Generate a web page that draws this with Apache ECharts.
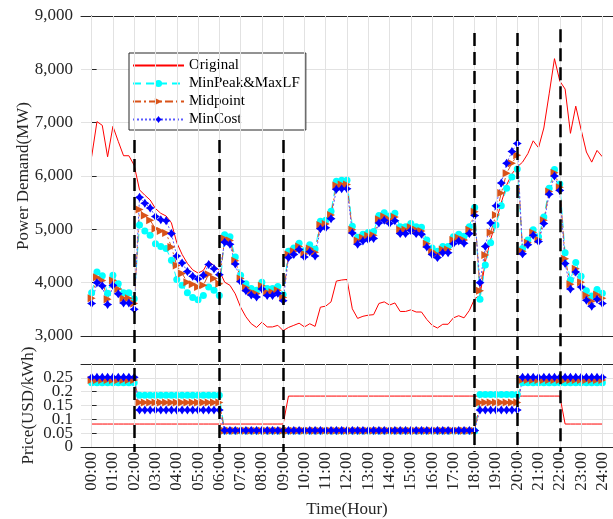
<!DOCTYPE html>
<html>
<head>
<meta charset="utf-8">
<script src="https://cdn.jsdelivr.net/npm/echarts@6/dist/echarts.min.js"></script>
<style>
html,body{margin:0;padding:0;background:#fff;}
#chart{width:613px;height:519px;}
</style>
</head>
<body>
<div id="chart"></div>
<script>
// ---- data (15-minute steps, 00:00 .. 24:00, 97 points) ----
const hourTicks = [0,1,2,3,4,5,6,7,8,9,10,11,12,13,14,15,16,17,18,19,20,21,22,23,24];
const hourLabels = ['00:00','01:00','02:00','03:00','04:00','05:00','06:00','07:00','08:00','09:00','10:00','11:00','12:00','13:00','14:00','15:00','16:00','17:00','18:00','19:00','20:00','21:00','22:00','23:00','24:00'];
const priceTicksA = [0, 0.1, 0.2];
const priceTicksB = [0.05, 0.15, 0.25];
const seriesNames = ['Original','MinPeak&MaxLF','Midpoint','MinCost'];
const dividerHours = [2,6,9,18,20,22];
const dividerTops = [6675,6675,6675,8680,8680,8750];

const original = [6360,7020,6950,6360,6930,6650,6380,6380,6200,
  5740,5640,5550,5390,5300,5250,5120,4750,4530,4360,4240,4180,4230,4400,4320,4230,
  4010,3950,3790,3540,3360,3230,3160,3260,3170,3170,3200,3100,
  3160,3200,3240,3170,3230,3180,3540,3560,3640,4030,4050,4060,3510,3330,3370,3390,3400,3610,3640,3580,3620,3460,3460,3490,3450,3450,3310,3200,3150,3220,3220,3340,3380,3340,3480,3700,
  3760,4390,4810,5140,5500,5830,6040,6170,
  6260,6420,6660,6530,6900,7540,8200,7780,
  7630,6800,7310,6870,6450,6260,6480,6360];
const minPeak = [3810,4200,4130,3800,4140,3980,3810,3810,3700,
  5080,4970,4890,4730,4680,4640,4420,4060,3950,3810,3720,3680,3760,3920,3860,3760,
  4900,4860,4480,4140,3980,3890,3860,4010,3890,3890,3930,3780,
  4590,4650,4740,4600,4710,4630,5150,5170,5340,5900,5920,5920,5060,4850,4910,4940,4960,5260,5310,5250,5300,5050,5050,5110,5050,5040,4800,4650,4590,4680,4680,4860,4910,4870,5050,5410,
  3690,4330,4750,5080,5440,5770,5980,6130,
  4640,4800,4990,4860,5230,5770,6120,5850,
  4560,4050,4380,4120,3850,3750,3870,3800];
const midpoint = [3710,4100,4040,3690,4040,3880,3710,3710,3610,
  5370,5260,5170,5010,4970,4930,4670,4320,4170,4010,3970,3920,3950,4160,4080,3980,
  4830,4790,4410,4080,3910,3830,3790,3940,3820,3820,3860,3720,
  4530,4590,4680,4540,4640,4570,5080,5100,5270,5820,5840,5840,4990,4790,4840,4880,4890,5190,5240,5180,5230,4990,4990,5040,4990,4970,4730,4590,4530,4620,4620,4800,4840,4800,4990,5330,
  3850,4520,4940,5270,5680,6050,6240,6390,
  4590,4750,4940,4810,5170,5710,6060,5790,
  4450,3970,4260,4010,3760,3650,3780,3710];
const minCost = [3610,4000,3940,3590,3950,3790,3620,3620,3500,
  5600,5490,5400,5240,5180,5160,4920,4500,4370,4210,4120,4070,4140,4340,4260,4150,
  4760,4720,4350,4020,3850,3770,3730,3880,3760,3760,3800,3660,
  4470,4530,4620,4480,4580,4500,5010,5030,5200,5750,5760,5760,4930,4720,4780,4810,4830,5120,5170,5110,5160,4920,4920,4980,4920,4910,4670,4530,4470,4560,4560,4730,4780,4740,4920,5260,
  4000,4680,5120,5440,5870,6240,6460,6610,
  4540,4710,4890,4770,5110,5660,6000,5730,
  4360,3880,4200,3920,3670,3560,3690,3610];

const priceOriginal = [0.083,0.083,0.083,0.083,0.083,0.083,0.083,0.083,0.083,
  0.083,0.083,0.083,0.083,0.083,0.083,0.083,0.083,0.083,0.083,0.083,0.083,0.083,0.083,0.083,0.083,
  0.083,0.083,0.083,0.083,0.083,0.083,0.083,0.083,0.083,0.083,0.083,0.083,
  0.184,0.184,0.184,0.184,0.184,0.184,0.184,0.184,0.184,0.184,0.184,0.184,0.184,0.184,0.184,0.184,0.184,0.184,0.184,0.184,0.184,0.184,0.184,0.184,0.184,0.184,0.184,0.184,0.184,0.184,0.184,0.184,0.184,0.184,0.184,0.184,
  0.184,0.184,0.184,0.184,0.184,0.184,0.184,0.184,
  0.184,0.184,0.184,0.184,0.184,0.184,0.184,0.184,
  0.083,0.083,0.083,0.083,0.083,0.083,0.083,0.083];
const priceMinPeak = [0.232,0.232,0.232,0.232,0.232,0.232,0.232,0.232,0.232,
  0.187,0.187,0.187,0.187,0.187,0.187,0.187,0.187,0.187,0.187,0.187,0.187,0.187,0.187,0.187,0.187,
  0.058,0.058,0.058,0.058,0.058,0.058,0.058,0.058,0.058,0.058,0.058,0.058,
  0.058,0.058,0.058,0.058,0.058,0.058,0.058,0.058,0.058,0.058,0.058,0.058,0.058,0.058,0.058,0.058,0.058,0.058,0.058,0.058,0.058,0.058,0.058,0.058,0.058,0.058,0.058,0.058,0.058,0.058,0.058,0.058,0.058,0.058,0.058,0.058,
  0.19,0.19,0.19,0.19,0.19,0.19,0.19,0.19,
  0.232,0.232,0.232,0.232,0.232,0.232,0.232,0.232,
  0.232,0.232,0.232,0.232,0.232,0.232,0.232,0.232];
const priceMidpoint = [0.242,0.242,0.242,0.242,0.242,0.242,0.242,0.242,0.242,
  0.161,0.161,0.161,0.161,0.161,0.161,0.161,0.161,0.161,0.161,0.161,0.161,0.161,0.161,0.161,0.161,
  0.059,0.059,0.059,0.059,0.059,0.059,0.059,0.059,0.059,0.059,0.059,0.059,
  0.059,0.059,0.059,0.059,0.059,0.059,0.059,0.059,0.059,0.059,0.059,0.059,0.059,0.059,0.059,0.059,0.059,0.059,0.059,0.059,0.059,0.059,0.059,0.059,0.059,0.059,0.059,0.059,0.059,0.059,0.059,0.059,0.059,0.059,0.059,0.059,
  0.161,0.161,0.161,0.161,0.161,0.161,0.161,0.161,
  0.242,0.242,0.242,0.242,0.242,0.242,0.242,0.242,
  0.242,0.242,0.242,0.242,0.242,0.242,0.242,0.242];
const priceMinCost = [0.252,0.252,0.252,0.252,0.252,0.252,0.252,0.252,0.252,
  0.134,0.134,0.134,0.134,0.134,0.134,0.134,0.134,0.134,0.134,0.134,0.134,0.134,0.134,0.134,0.134,
  0.06,0.06,0.06,0.06,0.06,0.06,0.06,0.06,0.06,0.06,0.06,0.06,
  0.06,0.06,0.06,0.06,0.06,0.06,0.06,0.06,0.06,0.06,0.06,0.06,0.06,0.06,0.06,0.06,0.06,0.06,0.06,0.06,0.06,0.06,0.06,0.06,0.06,0.06,0.06,0.06,0.06,0.06,0.06,0.06,0.06,0.06,0.06,0.06,
  0.134,0.134,0.134,0.134,0.134,0.134,0.134,0.134,
  0.252,0.252,0.252,0.252,0.252,0.252,0.252,0.252,
  0.252,0.252,0.252,0.252,0.252,0.252,0.252,0.252];

// time of each sample (15-minute steps)
const timeSteps = original.map((_, i) => i / 4);
const pair = arr => arr.map((v, i) => [timeSteps[i], v]);

// ---- styles ----
const FONT = 'Liberation Serif';
const AX = '#262626';
const GRIDC = '#e2e2e2';
const STAR = 'path://M0,-10 L4,-4 L10,0 L4,4 L0,10 L-4,4 L-10,0 L-4,-4 Z';
const styles = [
  {color:'#ff0000', lineType:'solid', symbol:'none', size:0, rotate:0},
  {color:'#00ffff', lineType:[8,5], symbol:'circle', size:7, rotate:0},
  {color:'#d95319', lineType:[8,3,2,3], symbol:'triangle', size:8, rotate:-90},
  {color:'#0000ff', lineType:[2,2], symbol:STAR, size:9, rotate:0, lineColor:'#5a5aff'}
];

function mkSeries(name, data, sty, xi, yi) {
  return {
    name: name, type: 'line', xAxisIndex: xi, yAxisIndex: yi,
    data: pair(data),
    symbol: sty.symbol, symbolSize: sty.size, symbolRotate: sty.rotate,
    showSymbol: sty.symbol !== 'none', showAllSymbol: true,
    itemStyle: {color: sty.color, borderWidth: 0},
    lineStyle: {color: sty.lineColor || sty.color, width: 1, type: sty.lineType},
    emphasis: {disabled: true}, animation: false, z: 3
  };
}

const chart = echarts.init(document.getElementById('chart'), null, {renderer:'canvas'});

const grids = [
  {left: 81, right: -7, top: 16, height: 320},
  {left: 81, right: -7, top: 364, height: 84},
  {left: 81, right: -7, top: 16, height: 436}
];

const nameStyle = {fontFamily: FONT, fontSize: 17, color: AX};

function xAx(gridIndex, pos, labels) {
  return {
    type: 'value', gridIndex: gridIndex, position: pos, min: -0.5, max: 24.5,
    axisLine: {show: true, onZero: false, lineStyle: {color: AX, width: 1}},
    axisTick: {show: true, inside: true, length: 5, customValues: hourTicks, lineStyle: {color: AX}},
    axisLabel: labels ? {
      show: true, customValues: hourTicks, rotate: 90, margin: 5,
      fontFamily: FONT, fontSize: 17, color: AX,
      formatter: v => hourLabels[hourTicks.indexOf(Math.round(v))]
    } : {show: false},
    splitLine: {show: false},
    name: labels ? 'Time(Hour)' : '', nameLocation: 'middle', nameGap: 54,
    nameMoveOverlap: false, nameTextStyle: nameStyle
  };
}

function priceLabelAxis(ticks, withLine, withName) {
  return {
    type: 'value', gridIndex: 1, position: 'left', offset: 0,
    min: 0, max: 0.3, interval: 0.05,
    axisLine: {show: withLine, lineStyle: {color: AX}},
    axisTick: {show: withLine, inside: true, length: 5, lineStyle: {color: AX}},
    axisLabel: {fontFamily: FONT, fontSize: 17, color: AX, margin: 8,
      customValues: ticks, showMinLabel: true, showMaxLabel: true, hideOverlap: false,
      formatter: v => String(Math.round(v * 100) / 100)},
    splitLine: {show: withLine, lineStyle: {color: GRIDC, width: 1}},
    name: withName ? 'Price(USD/kWh)' : '', nameLocation: 'middle', nameGap: 44,
    nameMoveOverlap: false, nameTextStyle: nameStyle
  };
}

const option = {
  animation: false,
  textStyle: {fontFamily: FONT},
  grid: grids,
  legend: {
    data: [
      {name: seriesNames[0], itemStyle: {opacity: 0}},
      {name: seriesNames[1]},
      {name: seriesNames[2]},
      {name: seriesNames[3]}
    ],
    orient: 'vertical', left: 129, top: 53,
    itemWidth: 51, itemHeight: 9, itemGap: 3,
    backgroundColor: '#fff', borderColor: AX, borderWidth: 1,
    padding: [5, 6, 3, 3],
    textStyle: {fontFamily: FONT, fontSize: 15, color: '#000'},
    selectedMode: false
  },
  xAxis: [
    xAx(0, 'bottom', false),
    xAx(0, 'top', false),
    xAx(1, 'bottom', true),
    xAx(1, 'top', false),
    {type: 'value', gridIndex: 2, min: -0.5, max: 24.5, show: false}
  ],
  yAxis: [
    {
      type: 'value', gridIndex: 0, min: 3000, max: 9000, interval: 1000,
      axisLine: {show: true, lineStyle: {color: AX}},
      axisTick: {show: true, inside: true, length: 5, lineStyle: {color: AX}},
      axisLabel: {fontFamily: FONT, fontSize: 17, color: AX, margin: 8,
        formatter: v => v.toLocaleString('en-US')},
      splitLine: {show: true, lineStyle: {color: GRIDC, width: 1}},
      name: 'Power Demand(MW)', nameLocation: 'middle', nameGap: 49,
      nameMoveOverlap: false, nameTextStyle: nameStyle
    },
    priceLabelAxis(priceTicksA, true, true),
    {type: 'value', gridIndex: 2, min: 825, max: 9000, show: false},
    priceLabelAxis(priceTicksB, false, false)
  ],
  series: [
    // hourly vertical grid lines (behind data)
    {type: 'line', xAxisIndex: 0, yAxisIndex: 0, data: [], z: 1, silent: true,
      markLine: {silent: true, symbol: 'none', animation: false, label: {show: false},
        lineStyle: {color: GRIDC, width: 1, type: 'solid'},
        data: hourTicks.map(h => ({xAxis: h}))}},
    {type: 'line', xAxisIndex: 2, yAxisIndex: 1, data: [], z: 1, silent: true,
      markLine: {silent: true, symbol: 'none', animation: false, label: {show: false},
        lineStyle: {color: GRIDC, width: 1, type: 'solid'},
        data: hourTicks.map(h => ({xAxis: h}))}},
    mkSeries(seriesNames[0], original, styles[0], 0, 0),
    mkSeries(seriesNames[1], minPeak, styles[1], 0, 0),
    mkSeries(seriesNames[2], midpoint, styles[2], 0, 0),
    mkSeries(seriesNames[3], minCost, styles[3], 0, 0),
    mkSeries(seriesNames[0], priceOriginal, styles[0], 2, 1),
    mkSeries(seriesNames[1], priceMinPeak, styles[1], 2, 1),
    mkSeries(seriesNames[2], priceMidpoint, styles[2], 2, 1),
    mkSeries(seriesNames[3], priceMinCost, styles[3], 2, 1),
    // period dividers
    {type: 'line', xAxisIndex: 4, yAxisIndex: 2, data: [], z: 5, silent: true,
      markLine: {silent: true, symbol: 'none', animation: false, label: {show: false},
        lineStyle: {color: '#000', width: 2.5, type: [13, 6]},
        data: dividerHours.map((h, i) => [{coord: [h, dividerTops[i]]}, {coord: [h, 825]}])}}
  ]
};
chart.setOption(option);
</script>
</body>
</html>
